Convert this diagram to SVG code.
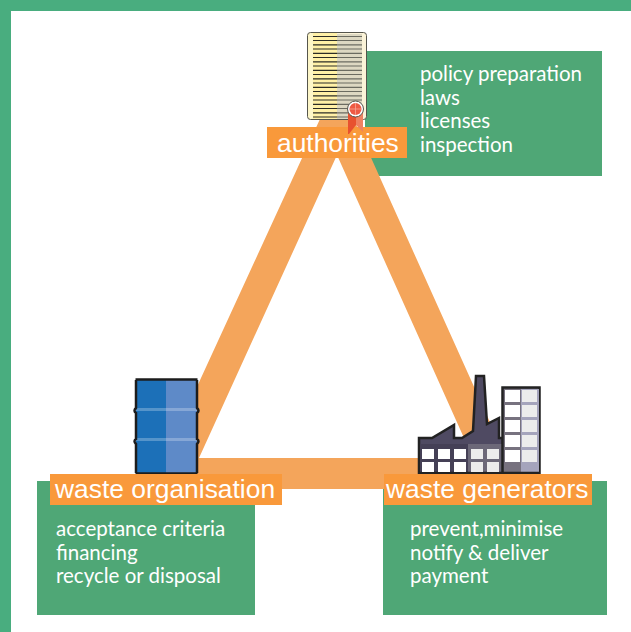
<svg xmlns="http://www.w3.org/2000/svg" width="631" height="632" viewBox="0 0 631 632">
<style>
.panel{fill:#4fa776}
.band{fill:#f4a55b}
.lab{fill:#f9993b}
.labt{font:26.4px "Liberation Sans",Arial,sans-serif;fill:#fff}
.t{font:20.500px Lato,"Open Sans",sans-serif;fill:#fff}
.dl{stroke:#2c2c26;stroke-width:1.200}
.w{fill:#fff}
.w2{fill:#ececec}
</style>
<rect width="631" height="632" fill="#fff"/>
<path d="M0 0H631V11H11V632H0Z" fill="#49ad7f"/>
<g id="panels">
<rect class="panel" x="365" y="51" width="237" height="125"/>
<rect class="panel" x="37" y="481" width="218" height="134"/>
<rect class="panel" x="383" y="481" width="224" height="134"/>
</g>
<g id="connectors">
<path class="band" fill-rule="evenodd" d="M337 82L520 489H150ZM337 155L199 458H473Z"/>
</g>
<g id="authorities">
<rect x="307.500" y="32.500" width="59" height="87" rx="3" fill="#fdf6c8"/>
<rect x="313" y="33" width="24" height="86" fill="#fff0a6"/>
<rect x="337" y="33" width="29" height="86" fill="#fbf3d8"/>
<path class="dl" d="M313 36.500H362M313 40.500H362M313 44.800H362M313 49H362M313 53.300H362M313 57.500H362M313 61.800H362M313 66H362M313 70.300H362M313 74.500H362M313 78.800H362M313 83H362M313 87.300H362M313 91.500H362M313 95.800H362M313 100H362M313 104.300H362M313 108.500H362M313 112.800H362M313 117H362"/>
<rect x="337" y="34" width="25" height="85" fill="#b8b8a8" opacity=".45"/>
<rect x="307.500" y="32.500" width="59" height="87" rx="3" fill="none" stroke="#55554d" stroke-width="1"/>
<rect class="lab" x="267" y="127" width="140" height="31"/>
<path d="M356 112H363V132L356 125Z" fill="#ee8262"/>
<path d="M348 112H356V125L349 134H348Z" fill="#e8512f"/>
<circle cx="355.500" cy="109" r="8" fill="#fff" stroke="#55554d" stroke-width="1"/>
<circle cx="355.500" cy="109" r="6" fill="#ee5a44"/>
<path d="M355.500 103V115M349.500 109H361.500" stroke="#f6a594" stroke-width=".8"/>
<text class="labt" x="277" y="152">authorities</text>
<text class="t" x="420" y="81">policy preparation</text>
<text class="t" x="420" y="105">laws</text>
<text class="t" x="420" y="128">licenses</text>
<text class="t" x="420" y="152">inspection</text>
</g>
<g id="waste-organisation">
<rect x="136" y="380" width="31" height="93" fill="#1c70b8"/>
<rect x="166" y="380" width="31" height="93" fill="#5e8ac8"/>
<rect x="136" y="408" width="61" height="3" fill="#fff" opacity=".25"/>
<rect x="136" y="438" width="61" height="3" fill="#fff" opacity=".25"/>
<path d="M135.500 379.500H197.500M135.500 473.500H197.500M136 380V408Q133 411 136 413V439Q133 441 136 444V473M197 380V408Q200 411 197 413V439Q200 441 197 444V473" fill="none" stroke="#1c1c1c" stroke-width="2.500"/>
<rect class="lab" x="50" y="474" width="232" height="31"/>
<text class="labt" x="55" y="498">waste organisation</text>
<text class="t" x="56" y="536">acceptance criteria</text>
<text class="t" x="56" y="560">financing</text>
<text class="t" x="56" y="583">recycle or disposal</text>
</g>
<g id="waste-generators">
<path d="M419 473V438H432L454 425V438H462L473 431L476 376H484L487 424L499 418V438H503V473Z" fill="#4f4a62" stroke="#222" stroke-width="2.500"/>
<path d="M420 444H502V472H420Z" fill="#454056"/>
<rect x="468" y="444" width="34" height="29" fill="#6c6878"/>
<rect x="502.500" y="387.500" width="37" height="86" fill="#77727f" stroke="#222" stroke-width="2.500"/>
<rect x="521" y="389" width="18" height="84" fill="#a5a4bc"/>
<path d="M419 473H540" stroke="#222" stroke-width="2.500"/>
<g class="w"><rect x="422" y="449" width="12" height="10"/><rect x="438" y="449" width="12" height="10"/><rect x="454" y="449" width="12" height="10"/><rect x="422" y="462" width="12" height="10"/><rect x="438" y="462" width="12" height="10"/><rect x="454" y="462" width="12" height="10"/><rect x="505" y="390" width="15" height="12"/><rect x="505" y="405" width="15" height="12"/><rect x="505" y="420" width="15" height="12"/><rect x="505" y="435" width="15" height="12"/><rect x="505" y="450" width="15" height="12"/></g>
<g class="w2"><rect x="471" y="449" width="12" height="10"/><rect x="487" y="449" width="12" height="10"/><rect x="471" y="462" width="12" height="10"/><rect x="487" y="462" width="12" height="10"/><rect x="522" y="390" width="15" height="12"/><rect x="522" y="405" width="15" height="12"/><rect x="522" y="420" width="15" height="12"/><rect x="522" y="435" width="15" height="12"/><rect x="522" y="450" width="15" height="12"/></g>
<rect class="lab" x="384" y="474" width="208" height="31"/>
<text class="labt" x="386" y="498">waste generators</text>
<text class="t" x="410" y="536">prevent,minimise</text>
<text class="t" x="410" y="560">notify &amp; deliver</text>
<text class="t" x="410" y="583">payment</text>
</g>
</svg>
